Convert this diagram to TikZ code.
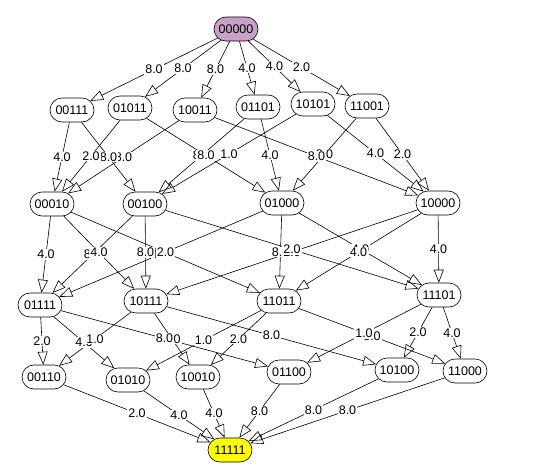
\documentclass[tikz,border=0pt]{standalone}
\usepackage{fontspec}
\setmainfont{Liberation Sans}
\usetikzlibrary{arrows.meta,shapes.misc}
\definecolor{startfill}{RGB}{200,160,200}
\definecolor{goalfill}{RGB}{255,255,0}
% from/to/weight, hidden labels listed before the ones that cover them
\def\edgelist{00000/00111/8.0, 00000/01011/8.0, 00000/10011/8.0, 00000/01101/4.0,
  00000/10101/4.0, 00000/11001/2.0,
  10011/00010/8.0, 01101/00100/8.0, 11001/01000/8.0,
  00111/00010/4.0, 00111/00100/8.0, 01011/00010/2.0, 01011/01000/8.0,
  10011/10000/8.0, 01101/01000/4.0, 10101/00100/1.0, 10101/10000/4.0,
  11001/10000/2.0,
  00100/01111/8.0, 01000/01111/1.0, 01000/11011/8.0, 10000/10111/2.0,
  01000/11101/4.0,
  00010/01111/4.0, 00010/10111/4.0, 00010/11011/2.0, 00100/10111/8.0,
  00100/11101/2.0, 10000/11011/4.0, 10000/11101/4.0,
  01111/01010/4.0, 10111/10010/8.0, 11011/11000/8.0,
  01111/00110/2.0, 01111/01100/8.0, 10111/00110/1.0, 10111/10100/8.0,
  11011/01010/1.0, 11011/10010/2.0, 11101/01100/1.0, 11101/10100/2.0,
  11101/11000/4.0,
  00110/11111/2.0, 01010/11111/4.0, 10010/11111/4.0, 01100/11111/8.0,
  10100/11111/8.0, 11000/11111/8.0}
\begin{document}
\begin{tikzpicture}[x = 1pt, y = -1pt,
  state/.style = {draw, rounded rectangle, minimum width = 44pt,
    minimum height = 24pt, inner sep = 0pt, font = \fontsize{12.5}{14}\selectfont},
  wt/.style = {fill = white, inner sep = 1pt, font = \fontsize{12.5}{14}\selectfont},
  >={Triangle[open, length = 13pt, width = 10pt]}, line width = 0.6pt]
\useasboundingbox (0,0) rectangle (541,469);
\node[state, fill = startfill] at (236,29) (n00000) {00000};
\node[state] at (72,110) (n00111) {00111};
\node[state] at (130,108) (n01011) {01011};
\node[state] at (195,110) (n10011) {10011};
\node[state] at (258,107) (n01101) {01101};
\node[state] at (313,104) (n10101) {10101};
\node[state] at (367,106) (n11001) {11001};
\node[state] at (52,204) (n00010) {00010};
\node[state] at (145,204) (n00100) {00100};
\node[state] at (282,203) (n01000) {01000};
\node[state] at (438,203) (n10000) {10000};
\node[state] at (40,305) (n01111) {01111};
\node[state] at (146,301) (n10111) {10111};
\node[state] at (279,301) (n11011) {11011};
\node[state] at (439,295) (n11101) {11101};
\node[state] at (44,377) (n00110) {00110};
\node[state] at (128,380) (n01010) {01010};
\node[state] at (198,377) (n10010) {10010};
\node[state] at (289,372) (n01100) {01100};
\node[state] at (397,370) (n10100) {10100};
\node[state] at (465,371) (n11000) {11000};
\node[state, fill = goalfill] at (230,450) (n11111) {11111};
% connectors first, weights on top of all of them
\foreach \a/\b/\w in \edgelist
  \draw[->] (n\a) -- (n\b);
\foreach \a/\b/\w in \edgelist
  \path (n\a) -- (n\b) node[wt, midway] {\w};
\end{tikzpicture}
\end{document}
